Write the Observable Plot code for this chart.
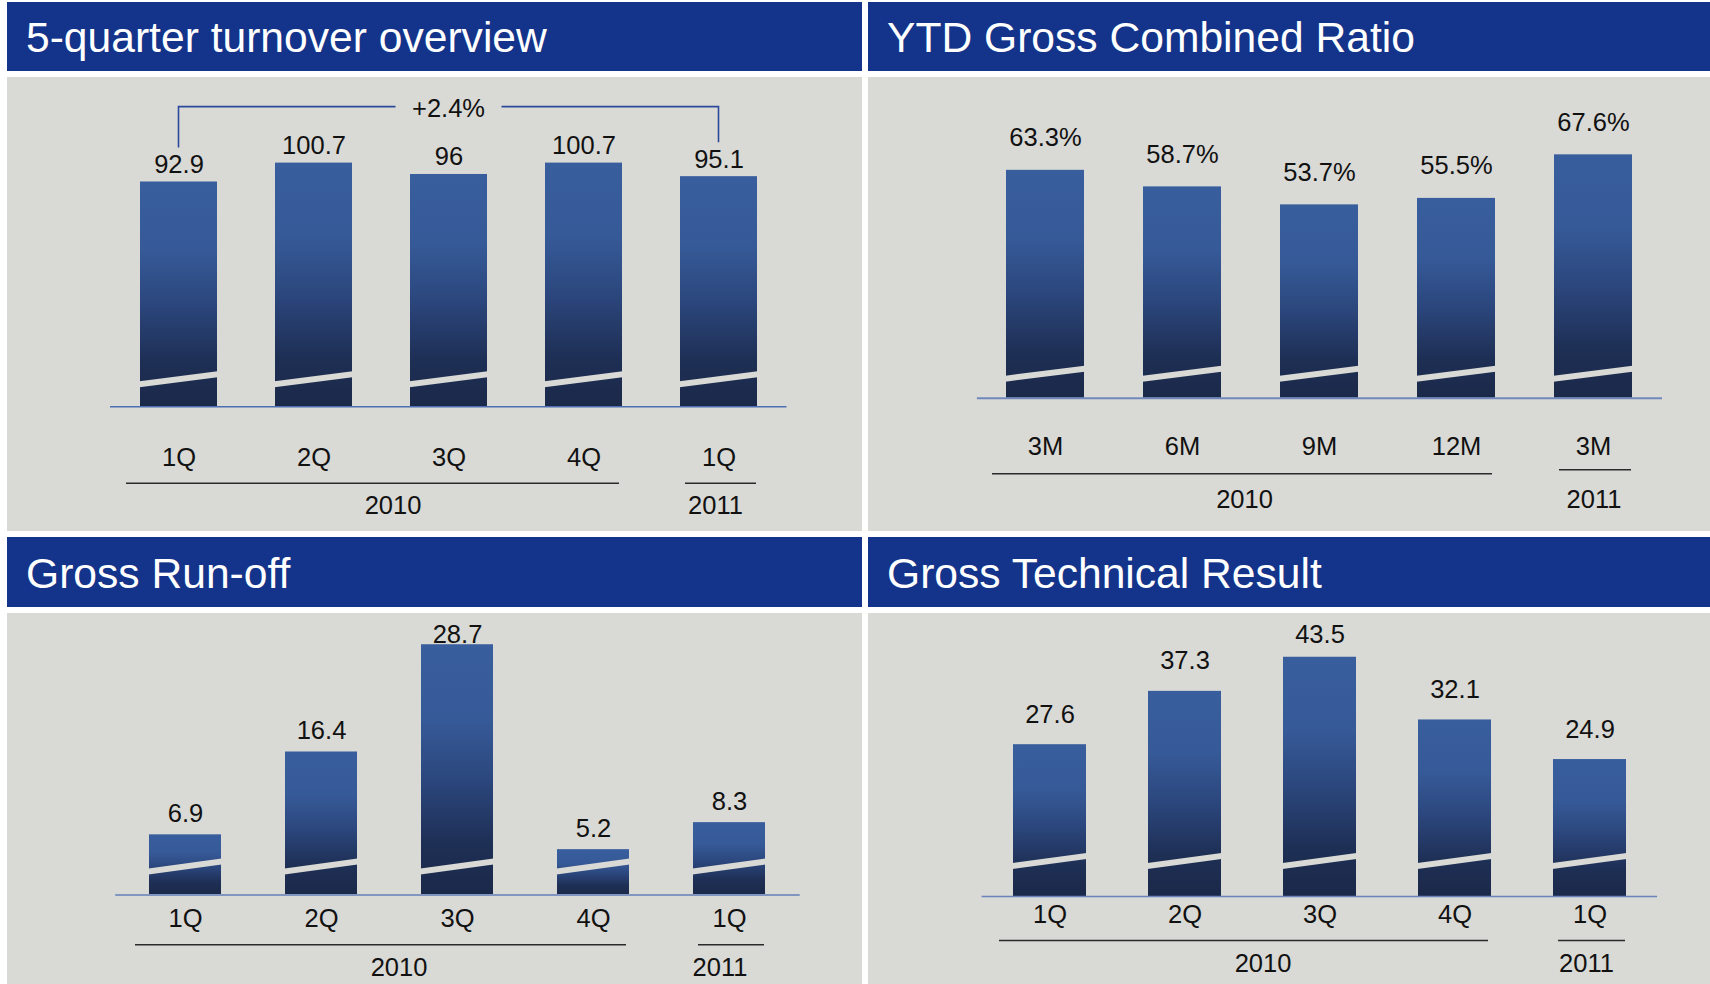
<!DOCTYPE html>
<html>
<head>
<meta charset="utf-8">
<script src="https://cdn.jsdelivr.net/npm/d3@7"></script>
<script src="https://cdn.jsdelivr.net/npm/@observablehq/plot@0.6"></script>
<style>
  html, body { margin: 0; padding: 0; background: #ffffff; }
  body { width: 1710px; height: 984px; position: relative; overflow: hidden;
         font-family: "Liberation Sans", Arial, Helvetica, sans-serif; }
  .title { position: absolute; background: #13348a; color: #ffffff; }
  .title span { position: absolute; left: 19px; font-size: 42.6px; line-height: 42px; white-space: nowrap; }
  .panel { position: absolute; background: #d9d9d5; overflow: hidden; }
  .panel svg { position: absolute; left: 0; top: 0; }
</style>
</head>
<body>
<div class="title" style="left:7px;top:2px;width:855px;height:69px"><span style="top:14px">5-quarter turnover overview</span></div>
<div class="title" style="left:868px;top:2px;width:842px;height:69px"><span style="top:14px">YTD Gross Combined Ratio</span></div>
<div class="title" style="left:7px;top:537px;width:855px;height:70px"><span style="top:15px">Gross Run-off</span></div>
<div class="title" style="left:868px;top:537px;width:842px;height:70px"><span style="top:15px">Gross Technical Result</span></div>

<div class="panel" id="p1" style="left:7px;top:77px;width:855px;height:454px"></div>
<div class="panel" id="p2" style="left:868px;top:77px;width:842px;height:454px"></div>
<div class="panel" id="p3" style="left:7px;top:613px;width:855px;height:371px"></div>
<div class="panel" id="p4" style="left:868px;top:613px;width:842px;height:371px"></div>

<script>
// ---------------- data ----------------
const quarterLabels = ["1Q", "2Q", "3Q", "4Q", "1Q"];
const quarterYears  = ["2010", "2010", "2010", "2010", "2011"];
const ytdLabels     = ["3M", "6M", "9M", "12M", "3M"];
const ytdYears      = ["2010", "2010", "2010", "2010", "2011"];

const turnover        = [92.9, 100.7, 96, 100.7, 95.1];
const turnoverChange  = "+2.4%";
const combinedRatio   = [63.3, 58.7, 53.7, 55.5, 67.6];
const grossRunOff     = [6.9, 16.4, 28.7, 5.2, 8.3];
const technicalResult = [27.6, 37.3, 43.5, 32.1, 24.9];

// ---------------- style ----------------
const FONT = '"Liberation Sans", Arial, Helvetica, sans-serif';
const FS = 25.5;
const INK = "#111111";
const PANEL_BG = "#d9d9d5";
const LABEL_MIN_BASELINE = 29; // px from top of plot: value labels never rise above this

function gradientDefs(id) {
  return () => {
    const defs = d3.create("svg:defs");
    const lg = defs.append("linearGradient").attr("id", id)
      .attr("x1", 0).attr("y1", 0).attr("x2", 0).attr("y2", 1);
    [[0, "#395e9d"], [0.3, "#365a98"], [0.55, "#2b467c"], [0.8, "#1e2f55"], [1, "#1b2949"]]
      .forEach(([o, col]) => lg.append("stop").attr("offset", o).attr("stop-color", col));
    return defs.node();
  };
}

function slashes(data, lift) {
  return (index, {x, y}) => {
    const bw = x.bandwidth();
    const y0 = y(0);
    const g = d3.create("svg:g").attr("fill", PANEL_BG);
    for (const d of data) {
      const x0 = x(d.key) - 0.5, x1 = x(d.key) + bw + 0.5;
      const yl = y0 - lift, yr = yl - 10, t = 6;
      g.append("path").attr("d", `M${x0},${yl}L${x1},${yr}L${x1},${yr - t}L${x0},${yl - t}Z`);
    }
    return g.node();
  };
}

function yearLabels(groups, dy, nudge) {
  return (index, {x, y}) => {
    const bw = x.bandwidth();
    const g = d3.create("svg:g")
      .attr("font-family", FONT).attr("font-size", FS).attr("fill", INK).attr("text-anchor", "middle");
    for (const grp of groups) {
      const cx = d3.mean(grp.keys, k => x(k) + bw / 2) + (nudge[grp.year] || 0);
      g.append("text").attr("x", cx).attr("y", y(0) + dy).text(grp.year);
    }
    return g.node();
  };
}

function bracket(data, label) {
  return (index, {x, y}) => {
    const bw = x.bandwidth();
    const a = data[0], b = data[data.length - 1];
    const xa = x(a.key) + bw / 2, xb = x(b.key) + bw / 2;
    const top = y(d3.max(data, d => d.value)) - 56;
    const legA = y(a.value) - 34, legB = y(b.value) - 34;
    const mid = (xa + xb) / 2;
    const g = d3.create("svg:g");
    g.append("path")
      .attr("d", `M${xa},${legA}V${top}H${mid - 53}M${mid + 53},${top}H${xb}V${legB}`)
      .attr("fill", "none").attr("stroke", "#2c4a9c").attr("stroke-width", 1.6);
    g.append("text").attr("x", mid).attr("y", top + 10).attr("text-anchor", "middle")
      .attr("font-family", FONT).attr("font-size", FS).attr("fill", INK).text(label);
    return g.node();
  };
}

function panelChart(c) {
  const data = c.values.map((v, i) => ({key: `${c.years[i]} ${c.labels[i]}`, label: c.labels[i], year: c.years[i], value: v}));
  const keys = data.map(d => d.key);
  const groups = d3.groups(data, d => d.year).map(([year, rows]) => ({
    year, first: rows[0].key, last: rows[rows.length - 1].key, keys: rows.map(r => r.key)
  }));
  const gradId = c.id + "-grad";
  const labelCap = (c.base - LABEL_MIN_BASELINE - c.gap) / c.k; // value above which the label stays inside
  const marks = [
    gradientDefs(gradId),
    Plot.barY(data, {x: "key", y: "value", fill: `url(#${gradId})`}),
    slashes(data, c.lift),
    Plot.ruleY([0], {stroke: c.baseColor, strokeWidth: c.baseWidth}),
    Plot.text(data, {x: "key", y: d => Math.min(d.value, labelCap), text: d => c.format(d.value),
                     dy: -c.gap, lineAnchor: "bottom", fontSize: FS, fontFamily: FONT, fill: INK}),
    Plot.text(data, {x: "key", text: "label", frameAnchor: "bottom", dy: c.catDy, lineAnchor: "bottom",
                     fontSize: FS, fontFamily: FONT, fill: INK}),
    Plot.ruleY(groups.filter(g => g.keys.length > 1), {x1: "first", x2: "last", y: 0, dy: c.groupDy,
                     insetLeft: -14, insetRight: 3, stroke: "#2a2a2a", strokeWidth: 1.6}),
    Plot.ruleY(groups.filter(g => g.keys.length === 1), {x1: "first", x2: "last", y: 0, dy: c.groupDy2 ?? c.groupDy,
                     insetLeft: 5, insetRight: 1, stroke: "#2a2a2a", strokeWidth: 1.6}),
    yearLabels(groups, c.yearDy, c.yearNudge)
  ];
  if (c.change) marks.push(bracket(data, c.change));
  const chart = Plot.plot({
    width: c.W, height: c.H,
    marginLeft: c.left, marginRight: c.W - c.right, marginTop: 0, marginBottom: c.H - c.base,
    style: {background: "transparent", overflow: "visible", fontFamily: FONT},
    x: {type: "band", domain: keys, paddingInner: c.pad, paddingOuter: c.pad / 2, axis: null},
    y: {domain: [0, c.base / c.k], axis: null},
    marks
  });
  document.getElementById(c.id).appendChild(chart);
}

panelChart({id: "p1", labels: quarterLabels, years: quarterYears, values: turnover, change: turnoverChange,
  format: v => String(v), W: 855, H: 454, left: 103, right: 779.5, base: 329.3, k: 2.42, pad: 0.43,
  gap: 9, catDy: 59, groupDy: 76.5, yearDy: 108, lift: 19, baseColor: "#4d6fb2", baseWidth: 1.5,
  yearNudge: {"2010": 12, "2011": -3}});

panelChart({id: "p2", labels: ytdLabels, years: ytdYears, values: combinedRatio,
  format: v => v.toFixed(1) + "%", W: 842, H: 454, left: 108.9, right: 794, base: 320.7, k: 3.6, pad: 0.43,
  gap: 24, catDy: 57, groupDy: 75.5, groupDy2: 71.5, yearDy: 110, lift: 16, baseColor: "#7088bd", baseWidth: 2,
  yearNudge: {"2010": -6, "2011": 1}});

panelChart({id: "p3", labels: quarterLabels, years: quarterYears, values: grossRunOff,
  format: v => String(v), W: 855, H: 371, left: 108.2, right: 792.7, base: 281.5, k: 8.72, pad: 0.47,
  gap: 13, catDy: 32, groupDy: 49.8, yearDy: 81, lift: 20, baseColor: "#8096c0", baseWidth: 2.2,
  yearNudge: {"2010": 10, "2011": -9}});

panelChart({id: "p4", labels: quarterLabels, years: quarterYears, values: technicalResult,
  format: v => String(v), W: 842, H: 371, left: 113.6, right: 789.1, base: 283, k: 5.5, pad: 0.46,
  gap: 22, catDy: 26.7, groupDy: 44, yearDy: 75.7, lift: 27, baseColor: "#6a84bd", baseWidth: 1.6,
  yearNudge: {"2010": 11, "2011": -3}});
</script>
</body>
</html>
